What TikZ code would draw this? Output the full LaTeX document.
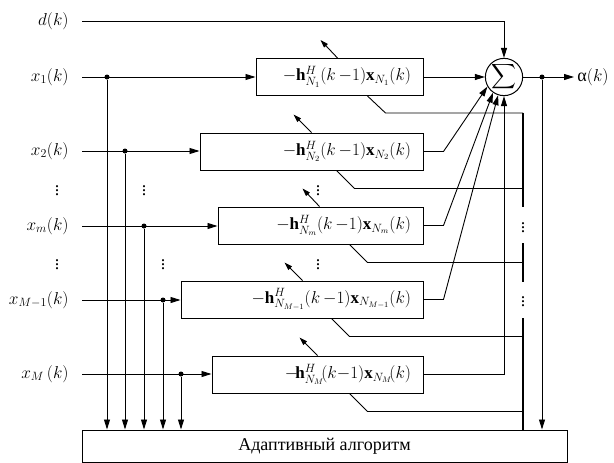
\documentclass[tikz,border=0pt]{standalone}
\usepackage{amsmath}
\usepackage{fontspec}
\setmainfont{Liberation Serif}
\usetikzlibrary{arrows.meta}
\usetikzlibrary{calc}
\usetikzlibrary{positioning}

\tikzset{
  filt/.style={draw, line width=1pt, minimum height=37pt, inner xsep=12pt, align=right,
    font=\fontsize{17}{20}\selectfont},
  lbl/.style={anchor=east, inner xsep=13pt},
  tap/.style={circle, fill, inner sep=0pt, minimum size=5pt},
  busline/.style={line width=2.8pt},
  adapt/.style={-{Triangle[length=8pt,width=5pt]}}
}

\begin{document}
\begin{tikzpicture}[x=1pt, y=-1pt, line width=0.9pt, font=\fontsize{18}{21}\selectfont,
    >={Triangle[length=10pt,width=6pt]}]
    \path[use as bounding box] (0,0) rectangle (614,463);

    % input labels
    \node[lbl] (d)  at (82,21)  {$d(k)$};
    \node[lbl] (x1) at (82,77)  {$x_1(k)$};
    \node[lbl] (x2) at (82,151) {$x_2(k)$};
    \node[lbl] (xm) at (82,226) {$x_m(k)$};
    \node[lbl] (xq) at (82,300) {$x_{M-1}(k)$};
    \node[lbl] (xM) at (82,374) {$x_M\,(k)$};

    % filters
    \node[filt, text width=143pt] (b1) at (339.5,77)  {$-\mathbf{h}^H_{N_1}(k\,{-}1)\mathbf{x}_{N_1}(k)$};
    \node[filt, text width=199pt] (b2) at (311.5,151.5) {$-\mathbf{h}^H_{N_2}(k\,{-}1)\mathbf{x}_{N_2}(k)$};
    \node[filt, text width=181pt] (b3) at (320.5,225.5) {$-\mathbf{h}^H_{N_m}(k\,{-}1)\mathbf{x}_{N_m}(k)$};
    \node[filt, text width=218pt] (b4) at (302,299.5) {$-\mathbf{h}^H_{N_{M-1}}(k\,{-}1)\mathbf{x}_{N_{M-1}}(k)$};
    \node[filt, text width=187pt] (b5) at (317.5,374.5) {$-\!\mathbf{h}^H_{N_M}\!(k{-}1)\mathbf{x}_{N_M}\!(k)$};

    \node[draw, circle, minimum size=36pt, inner sep=0pt, line width=1pt, font=\fontsize{16}{19}\selectfont] (sum) at (504,77) {$\displaystyle\sum$};
    \node[draw, line width=1pt, minimum width=485pt, minimum height=32pt] (alg) at (324.5,446) {Адаптивный алгоритм};
    \node[anchor=west, inner xsep=3pt] (alpha) at (574,77) {α$(k)$};

    % taps
    \node[tap] (t1) at (107,77)  {};
    \node[tap] (t2) at (125,151) {};
    \node[tap] (tm) at (144,226) {};
    \node[tap] (tq) at (163,300) {};
    \node[tap] (tM) at (181,374) {};
    \node[tap] (o)  at (542,77)  {};
    \coordinate (bus) at (523,113);

    % dots
    \node (dl1) at (57,188)  {$\vdots$};
    \node (dl2) at (57,262)  {$\vdots$};
    \node (dm1) at (144,188) {$\vdots$};
    \node (dm2) at (163,262) {$\vdots$};
    \node (db1) at (318,188) {$\vdots$};
    \node (db2) at (318,262) {$\vdots$};
    \node (ds1) at (523,225) {$\vdots$};
    \node (ds2) at (523,299) {$\vdots$};

    % inputs
    \draw[->] (x1) -- (b1);
    \draw[->] (x2) -- (x2 -| b2.west);
    \draw[->] (xm) -- (xm -| b3.west);
    \draw[->] (xq) -- (xq -| b4.west);
    \draw[->] (xM) -- (xM -| b5.west);
    \foreach \t in {t1,t2,tm,tq,tM}
        \draw[->] (\t) -- (\t |- alg.north);

    % to the sum
    \draw[->] (d) -| (sum);
    \draw[->] (b1) -- (sum);
    \draw[->] (b2.east) -- ++(20,0) -- (sum.210);
    \draw[->] (b3.east) -- ++(20,0) -- (sum.235);
    \draw[->] (b4.east) -- ++(20,0) -- (sum.252);
    \draw[->] (b5.east) -| (sum.south);
    \draw[->] (sum) -- (alpha);
    \draw[->] (o) -- (o |- alg.north);

    % error bus
    \draw[busline] (bus) -- (523,207);
    \draw[busline] (523,243) -- (523,282);
    \draw[busline] (523,318) -- (bus |- alg.north);
    \draw ($(b1.south west)+(112,0)$) -- ++(18,17) coordinate (f1) -- (f1 -| bus);
    \draw ($(b2.south west)+(137,0)$) -- ++(18,18) coordinate (f2) -- (f2 -| bus);
    \draw ($(b3.south west)+(132,0)$) -- ++(18,18) coordinate (f3) -- (f3 -| bus);
    \draw ($(b4.south west)+(151,0)$) -- ++(18,18) coordinate (f4) -- (f4 -| bus);
    \draw ($(b5.south west)+(138,0)$) -- ++(18,18) coordinate (f5) -- (f5 -| bus);

    % adaptation
    \draw[adapt] ($(b1.north west)+(82,0)$)  -- ++(-17,-18);
    \draw[adapt] ($(b2.north west)+(112,0)$) -- ++(-18,-18);
    \draw[adapt] ($(b3.north west)+(102,0)$) -- ++(-17,-18);
    \draw[adapt] ($(b4.north west)+(122,0)$) -- ++(-18,-18);
    \draw[adapt] ($(b5.north west)+(106,0)$) -- ++(-18,-18);
\end{tikzpicture}
\end{document}
